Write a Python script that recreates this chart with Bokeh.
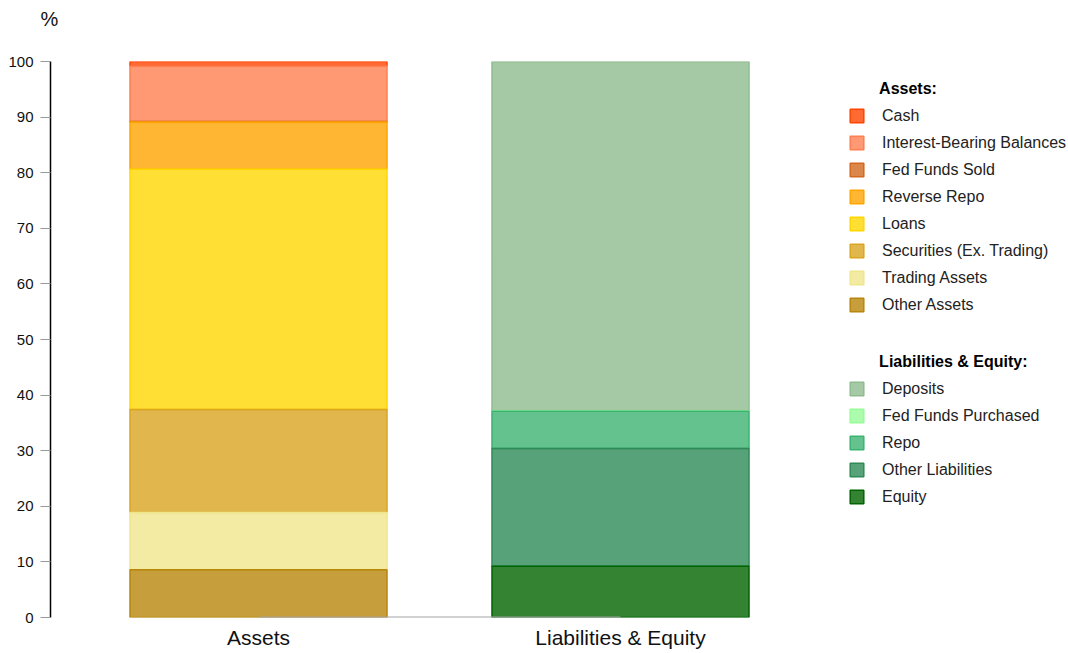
import numpy as np
from bokeh.plotting import figure
from bokeh.models import ColumnDataSource, Legend, LegendItem, FixedTicker, Range1d
from bokeh.embed import file_html
from bokeh.resources import INLINE

# ---------------- data ----------------
categories = ["Assets", "Liabilities & Equity"]

asset_labels = ["Cash", "Interest-Bearing Balances", "Fed Funds Sold", "Reverse Repo",
                "Loans", "Securities (Ex. Trading)", "Trading Assets", "Other Assets"]
asset_values = [0.8, 10.0, 0.1, 8.5, 43.2, 18.5, 10.3, 8.6]
asset_colors = ["#FF4500", "#FF7F50", "#D2691E", "#FFA500",
                "#FFD700", "#DAA520", "#F0E68C", "#B8860B"]

liab_labels = ["Deposits", "Fed Funds Purchased", "Repo", "Other Liabilities", "Equity"]
liab_values = [62.8, 0.1, 6.7, 21.2, 9.2]
liab_colors = ["#8FBC8F", "#98FB98", "#3CB371", "#2E8B57", "#006400"]

group_titles = ["Assets:", "Liabilities & Equity:"]
unit_label = "%"
y_ticks = list(range(0, 101, 10))

FONT = "Liberation Sans"

# ---------------- figure ----------------
W, H = 1068, 653
p = figure(width=W, height=H, output_backend="svg", toolbar_location=None,
           x_range=Range1d(-0.5746, 2.2376), y_range=Range1d(0, 100),
           min_border_left=50, min_border_right=0, min_border_top=61, min_border_bottom=36,
           title=unit_label + "\n\u00a0")
p.outline_line_color = None
p.xgrid.visible = False
p.ygrid.visible = False
p.background_fill_color = "white"

p.title.align = "left"
p.title.vertical_align = "top"
p.title.offset = -10
p.title.standoff = 15
p.title.text_font = FONT
p.title.text_font_size = "20px"
p.title.text_font_style = "normal"
p.title.text_color = "#111111"


def stack(values, xpos, labels, colors):
    vals = np.array(values, dtype=float)
    tops = np.cumsum(vals[::-1])[::-1]
    bottoms = tops - vals
    items = []
    for lab, col, b, t in zip(labels, colors, bottoms, tops):
        src = ColumnDataSource(dict(x=[xpos], bottom=[b], top=[t]))
        r = p.vbar(x="x", bottom="bottom", top="top", width=0.71, source=src,
                   fill_color=col, fill_alpha=0.8, line_color=col, line_width=1.5)
        items.append(LegendItem(label=lab, renderers=[r]))
    return items


asset_items = stack(asset_values, 0, asset_labels, asset_colors)
liab_items = stack(liab_values, 1, liab_labels, liab_colors)

# baseline between category centres
p.segment(x0=[0], y0=[0], x1=[len(categories) - 1], y1=[0], line_color="#A6A6A6", line_width=2)

# ---------------- axes ----------------
yax = p.yaxis[0]
yax.ticker = FixedTicker(ticks=y_ticks)
yax.minor_tick_line_color = None
yax.axis_line_color = "black"
yax.axis_line_width = 1.5
yax.major_tick_line_color = "#999999"
yax.major_tick_out = 10
yax.major_tick_in = 0
yax.major_label_standoff = 7
yax.major_label_text_font = FONT
yax.major_label_text_font_size = "15px"
yax.major_label_text_color = "#111111"

xax = p.xaxis[0]
xax.ticker = FixedTicker(ticks=list(range(len(categories))))
xax.major_label_overrides = {i: c for i, c in enumerate(categories)}
xax.axis_line_color = None
xax.major_tick_line_color = None
xax.minor_tick_line_color = None
xax.major_label_standoff = 2
xax.major_label_text_font = FONT
xax.major_label_text_font_size = "21px"
xax.major_label_text_color = "#111111"

# ---------------- legends ----------------
INDENT = "\u00a0" * 7  # shift the group title over the label column


def make_legend(items, title, loc):
    return Legend(items=items, location=loc, title=INDENT + title,
                  title_text_font=FONT, title_text_font_style="bold", title_text_font_size="16px",
                  title_text_color="#000000", title_standoff=9,
                  label_text_font=FONT, label_text_font_size="16px", label_text_color="#222222",
                  glyph_width=17, glyph_height=17, label_height=18, spacing=9,
                  label_standoff=17, padding=0, margin=0,
                  border_line_alpha=0, background_fill_alpha=0)


p.add_layout(make_legend(asset_items, group_titles[0], (798, 303.5)))
p.add_layout(make_legend(liab_items, group_titles[1], (798, 111.5)))

open("out.html", "w").write(file_html(p, INLINE))
